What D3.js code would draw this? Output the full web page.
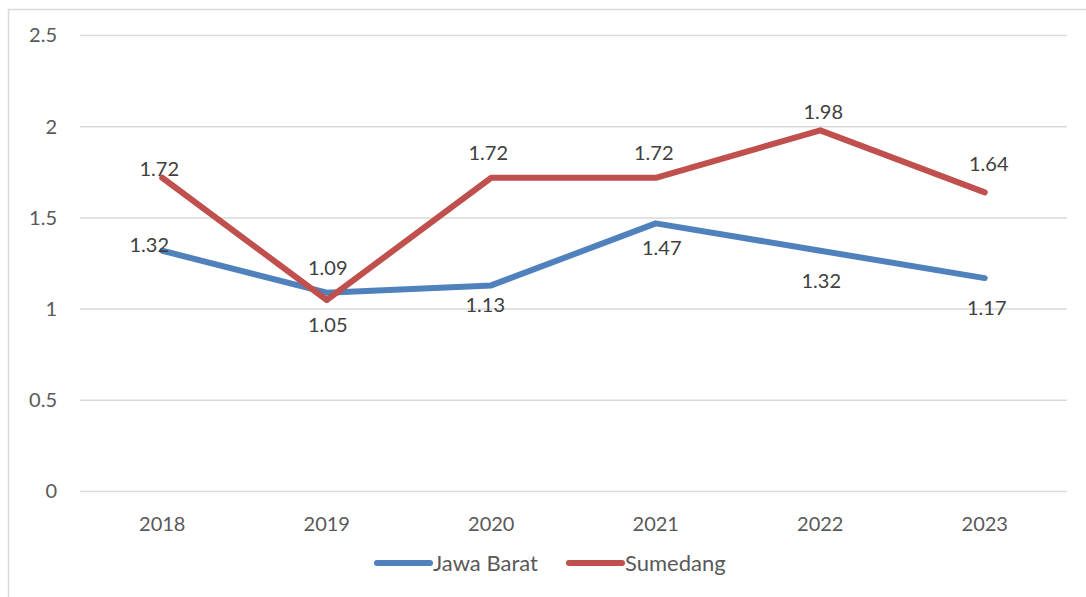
<!DOCTYPE html>
<html>
<head>
<meta charset="utf-8">
<script src="https://cdn.jsdelivr.net/npm/d3@7/dist/d3.min.js"></script>
<style>
  html, body { margin: 0; padding: 0; background: #fff; }
  svg { display: block; font-family: Lato, "Open Sans", sans-serif; }
</style>
</head>
<body>
<svg id="chart" width="1086" height="597"></svg>
<script>
// Years on the category axis
const years = ["2018", "2019", "2020", "2021", "2022", "2023"];
// Series values
const jawaBarat = [1.32, 1.09, 1.13, 1.47, 1.32, 1.17];
const sumedang = [1.72, 1.05, 1.72, 1.72, 1.98, 1.64];
// Series names
const seriesNames = ["Jawa Barat", "Sumedang"];
// Value axis ticks
const yTicks = [0, 0.5, 1, 1.5, 2, 2.5];

// Data-label nudges (px) relative to each point, per series
const jawaLabelShift = [[-13, -6], [1, -25], [-6, 20], [6, 25], [1, 30], [2, 30]];
const sumedangLabelShift = [[-3, -9], [1, 25], [-3, -25], [-2, -25], [3, -18], [4, -28]];

const colors = { "Jawa Barat": "#4f81bd", "Sumedang": "#c0504d" };

const svg = d3.select("#chart");
const W = 1086, H = 597;
const plot = { left: 80, right: 1067, top: 35.5, bottom: 491.5 };

// Outer chart frame
svg.append("rect")
  .attr("x", 8.5).attr("y", 9.5)
  .attr("width", W + 20).attr("height", H + 20)
  .attr("fill", "#fff")
  .attr("stroke", "#d9d9d9").attr("stroke-width", 1.5);

const x = d3.scaleBand().domain(years).range([plot.left, plot.right]).padding(0);
const y = d3.scaleLinear().domain([0, 2.5]).range([plot.bottom, plot.top]);
const cx = d => x(d) + x.bandwidth() / 2;

// Horizontal gridlines
svg.append("g")
  .selectAll("line")
  .data(yTicks)
  .join("line")
  .attr("x1", plot.left).attr("x2", plot.right)
  .attr("y1", d => y(d)).attr("y2", d => y(d))
  .attr("stroke", "#d9d9d9").attr("stroke-width", 1.5);

// Value axis labels
const yAxis = d3.axisLeft(y).tickValues(yTicks).tickSize(0).tickPadding(0)
  .tickFormat(d => String(d));
svg.append("g")
  .attr("transform", `translate(57,0)`)
  .call(yAxis)
  .call(g => g.select(".domain").remove())
  .call(g => g.selectAll("text")
    .attr("fill", "#595959")
    .style("font-size", "20px")
    .style("font-family", "Lato, 'Open Sans', sans-serif"));

// Category axis labels
const xAxis = d3.axisBottom(x).tickSize(0).tickPadding(0);
svg.append("g")
  .attr("transform", `translate(0,${plot.bottom + 21})`)
  .call(xAxis)
  .call(g => g.select(".domain").remove())
  .call(g => g.selectAll("text")
    .attr("fill", "#595959")
    .attr("dy", "0.35em")
    .attr("y", 11)
    .style("font-size", "20px")
    .style("font-family", "Lato, 'Open Sans', sans-serif"));

const series = [
  { name: seriesNames[0], values: jawaBarat, shift: jawaLabelShift },
  { name: seriesNames[1], values: sumedang, shift: sumedangLabelShift }
];

const line = d3.line()
  .x((d, i) => cx(years[i]))
  .y(d => y(d));

svg.append("g")
  .selectAll("path")
  .data(series)
  .join("path")
  .attr("d", s => line(s.values))
  .attr("fill", "none")
  .attr("stroke", s => colors[s.name])
  .attr("stroke-width", 6)
  .attr("stroke-linecap", "round")
  .attr("stroke-linejoin", "round");

// Data labels
series.forEach(s => {
  svg.append("g")
    .selectAll("text")
    .data(s.values)
    .join("text")
    .attr("x", (d, i) => cx(years[i]) + s.shift[i][0])
    .attr("y", (d, i) => y(d) + s.shift[i][1])
    .attr("dy", "0.35em")
    .attr("text-anchor", "middle")
    .attr("fill", "#404040")
    .style("font-size", "20px")
    .text(d => d.toFixed(2));
});

// Legend
const legendY = 563;
const legendItems = [
  { name: seriesNames[0], x0: 377 },
  { name: seriesNames[1], x0: 569 }
];
const lg = svg.append("g").selectAll("g").data(legendItems).join("g");
lg.append("line")
  .attr("x1", d => d.x0).attr("x2", d => d.x0 + 53)
  .attr("y1", legendY).attr("y2", legendY)
  .attr("stroke", d => colors[d.name])
  .attr("stroke-width", 6)
  .attr("stroke-linecap", "round");
lg.append("text")
  .attr("x", d => d.x0 + 56)
  .attr("y", legendY)
  .attr("dy", "0.35em")
  .attr("fill", "#595959")
  .style("font-size", "22px")
  .text(d => d.name);
</script>
</body>
</html>
